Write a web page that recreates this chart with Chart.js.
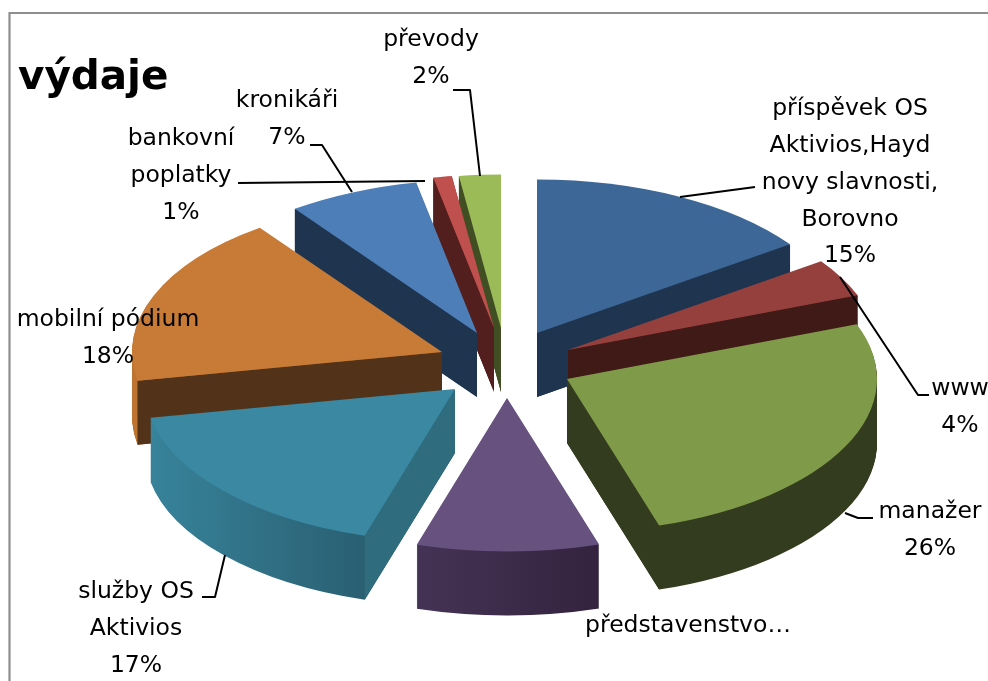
<!DOCTYPE html>
<html lang="cs">
<head>
<meta charset="utf-8">
<title>výdaje</title>
<style>
html,body{margin:0;padding:0;background:#fff;overflow:hidden}
#wrap{width:988px;height:681px;position:relative}
</style>
<script src="https://cdn.jsdelivr.net/npm/chart.js@4/dist/chart.umd.min.js"></script>
</head>
<body>
<div id="wrap"><canvas id="c" width="988" height="681"></canvas></div>
<script>
const titleText = 'výdaje';
const categories = [
  ['příspěvek OS','Aktivios,Hayd','novy slavnosti,','Borovno'],
  ['www'],
  ['manažer'],
  ['představenstvo…'],
  ['služby OS','Aktivios'],
  ['mobilní pódium'],
  ['kronikáři'],
  ['bankovní','poplatky'],
  ['převody']
];
const values = [15.2,4,26,9.5,17.3,18,6.86,0.97,2.17];
const showPercent = [true,true,true,false,true,true,true,true,true];

const topColors  = ['#3D6797','#96403E','#7F9A48','#67517F','#3A88A2','#C77B36','#4D7EB8','#C0504D','#9BBB59'];
const wallLeft   = ['#1F344E','#3F1A17','#343C1F','#453355','#37839A','#BE7530','#1F344E','#521F1E','#414E23'];
const wallRight  = ['#1F344E','#3F1A17','#343C1F','#33233E','#2A5F72','#8A5424','#1F344E','#521F1E','#414E23'];
const cutColors  = ['#1F344E','#3F1A17','#343C1F','#33233E','#2F6C7D','#523218','#1F344E','#521F1E','#414E23'];
const drawOrder  = [8,7,6,0,1,5,2,4,3];
const sliceNudgeX = [-1,1,-1,0,-1,-2,-3,-2,-1];
const sliceNudgeY = [-1,2,0,0,2,0,0,-3,-2];

const pie3d = {centerX:507, centerY:364, radiusX:310, radiusY:153.5, depth:64, explode:0.22};

const labelFont = '23.5px "DejaVu Sans"';
const labelLineHeight = 36.8;
const labelCenterX = [850,960,930,688,136,108,287,181,431];
const labelFirstY  = [109,389,512,626,592,320,101,139,40];
const leaderLines = [
  [[755,187],[680,197]],
  [[929,395],[918,395],[840,277]],
  [[873,518],[858,518],[845,513]],
  null,
  [[202,597],[215,597],[225,555]],
  null,
  [[310,145],[322,145],[352,192]],
  [[238,183],[425,181]],
  [[453,90],[470,90],[480,176]]
];

function apexOf(el, i){
  const mid = (el.startAngle + el.endAngle) / 2;
  return [
    Math.round(pie3d.centerX + pie3d.radiusX * pie3d.explode * Math.cos(mid) + sliceNudgeX[i]),
    Math.round(pie3d.centerY + pie3d.radiusY * pie3d.explode * Math.sin(mid) + sliceNudgeY[i])
  ];
}

function setFrame(ctx, el, i, dy){
  const a = apexOf(el, i);
  ctx.translate(a[0], a[1] + dy);
  ctx.scale(pie3d.radiusX / el.outerRadius, pie3d.radiusY / el.outerRadius);
  ctx.translate(-el.x, -el.y);
}

function drawCut(ctx, el, i, angle, color){
  const a = apexOf(el, i);
  const px = a[0] + pie3d.radiusX * Math.cos(angle), py = a[1] + pie3d.radiusY * Math.sin(angle);
  ctx.beginPath();
  ctx.moveTo(a[0], a[1]); ctx.lineTo(px, py);
  ctx.lineTo(px, py + pie3d.depth); ctx.lineTo(a[0], a[1] + pie3d.depth);
  ctx.closePath();
  ctx.fillStyle = color; ctx.fill();
}

const pie3dPlugin = {
  id: 'pie3d',
  beforeDraw(chart){
    const ctx = chart.ctx;
    ctx.save();
    ctx.strokeStyle = '#8E8E8E'; ctx.lineWidth = 2.2;
    ctx.beginPath();
    ctx.moveTo(9.5, 690); ctx.lineTo(9.5, 13); ctx.lineTo(1000, 13);
    ctx.stroke();
    ctx.restore();
  },
  beforeDatasetsDraw(chart){
    const ctx = chart.ctx;
    const meta = chart.getDatasetMeta(0);
    drawOrder.forEach(i => {
      const el = meta.data[i];
      const original = el.options.backgroundColor;
      let minC = 1, maxC = -1;
      for (let k = 0; k <= 24; k++){
        const c = Math.cos(el.startAngle + (el.endAngle - el.startAngle) * k / 24);
        minC = Math.min(minC, c); maxC = Math.max(maxC, c);
      }
      const grad = ctx.createLinearGradient(el.x + minC * el.outerRadius, 0, el.x + maxC * el.outerRadius + 0.01, 0);
      grad.addColorStop(0, wallLeft[i]);
      grad.addColorStop(1, wallRight[i]);
      el.options.backgroundColor = grad;
      for (let d = pie3d.depth; d >= 1; d--){
        ctx.save();
        setFrame(ctx, el, i, d);
        el.draw(ctx);
        ctx.restore();
      }
      const th0 = el.startAngle + Math.PI / 2, th1 = el.endAngle + Math.PI / 2;
      if (Math.sin(th0) < -1e-6) drawCut(ctx, el, i, el.startAngle, cutColors[i]);
      if (Math.sin(th1) > 1e-6) drawCut(ctx, el, i, el.endAngle, cutColors[i]);
      el.options.backgroundColor = original;
      ctx.save();
      setFrame(ctx, el, i, 0);
      el.draw(ctx);
      ctx.restore();
    });
    return false;
  },
  afterDraw(chart){
    const ctx = chart.ctx;
    ctx.save();
    ctx.strokeStyle = '#000'; ctx.lineWidth = 2; ctx.lineJoin = 'round';
    leaderLines.forEach(pts => {
      if (!pts) return;
      ctx.beginPath();
      pts.forEach((p, k) => k ? ctx.lineTo(p[0], p[1]) : ctx.moveTo(p[0], p[1]));
      ctx.stroke();
    });
    ctx.fillStyle = '#000'; ctx.font = labelFont;
    ctx.textAlign = 'center'; ctx.textBaseline = 'middle';
    categories.forEach((lines, i) => {
      const all = showPercent[i] ? lines.concat(Math.round(values[i]) + '%') : lines;
      all.forEach((t, k) => ctx.fillText(t, labelCenterX[i], labelFirstY[i] + k * labelLineHeight));
    });
    ctx.restore();
  }
};

new Chart(document.getElementById('c').getContext('2d'), {
  type: 'pie',
  data: {
    labels: categories.map(l => l.join(' ')),
    datasets: [{ data: values, backgroundColor: topColors, borderWidth: 0, hoverOffset: 0 }]
  },
  options: {
    responsive: false,
    animation: false,
    layout: { padding: { left: 18 } },
    plugins: {
      legend: { display: false },
      tooltip: { enabled: false },
      title: {
        display: true, text: titleText, align: 'start', color: '#000',
        font: { family: '"DejaVu Sans"', size: 40.5, weight: 'bold' },
        padding: { top: 54, bottom: 4 }
      }
    }
  },
  plugins: [pie3dPlugin]
});
</script>
</body>
</html>
